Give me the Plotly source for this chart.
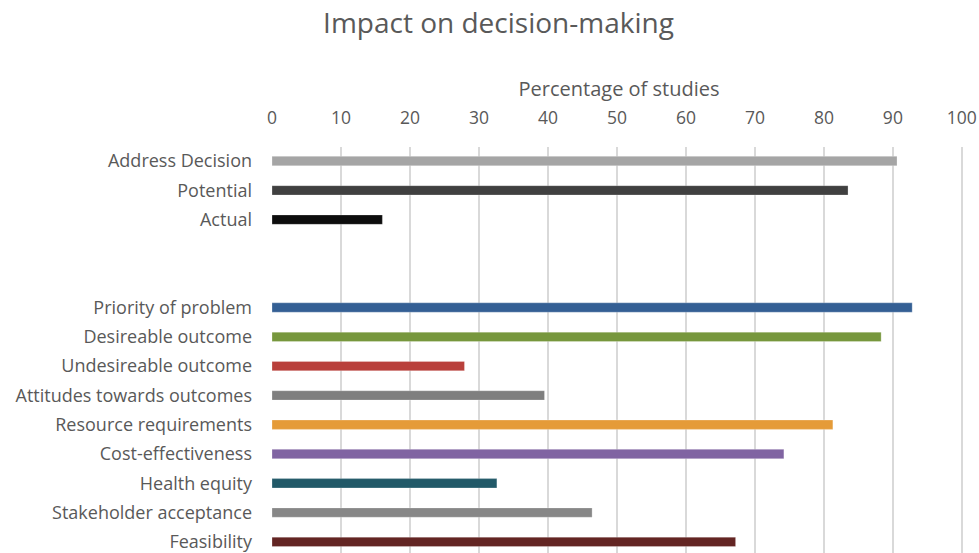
import plotly.graph_objects as go

categories = ["Address Decision", "Potential", "Actual", " ", "  ",
              "Priority of problem", "Desireable outcome", "Undesireable outcome",
              "Attitudes towards outcomes", "Resource requirements", "Cost-effectiveness",
              "Health equity", "Stakeholder acceptance", "Feasibility"]
values = [90.6, 83.5, 16.0, None, None,
          92.8, 88.3, 27.9, 39.5, 81.3, 74.2, 32.6, 46.4, 67.2]
colors = ["#a5a5a5", "#404040", "#0d0d0d", "#ffffff", "#ffffff",
          "#345f94", "#77973d", "#b9403b", "#7f7f7f", "#e59b38", "#8064a2",
          "#215968", "#878787", "#632523"]
x_ticks = [0, 10, 20, 30, 40, 50, 60, 70, 80, 90, 100]

W, H = 979, 553
ml, mr, mt, mb = 272, 13, 147, 0

fig = go.Figure(go.Bar(
    x=values, y=categories, orientation="h",
    marker=dict(color=colors, line=dict(color="rgba(255,255,255,0.5)", width=0.5)),
    width=0.32, hoverinfo="x+y",
))

txt = "#595959"
fig.update_layout(
    width=W, height=H,
    margin=dict(l=ml, r=mr, t=mt, b=mb, pad=0),
    paper_bgcolor="white", plot_bgcolor="white",
    font=dict(family="Open Sans", color=txt, size=18),
    title=dict(text="Impact on decision-making", x=498.5 / W, xanchor="center",
               xref="container", y=1 - 23 / H, yanchor="middle", yref="container",
               font=dict(size=28, color=txt)),
    showlegend=False,
    bargap=0.68,
)
fig.update_xaxes(
    side="top", range=[0, 100.6], tickvals=x_ticks, ticktext=[str(v) for v in x_ticks],
    showgrid=True, gridcolor="#d9d9d9", gridwidth=1.5, zeroline=False,
    showline=False, ticks="", ticklabelstandoff=19, ticklabeloverflow="allow",
    tickfont=dict(size=17.5, color=txt),
    title=dict(text="Percentage of studies", font=dict(size=20, color=txt), standoff=2),
)
fig.update_yaxes(
    type="category", categoryorder="array", categoryarray=categories,
    range=[13.38, -0.48], showgrid=False, zeroline=False, showline=False,
    ticks="", ticklabelstandoff=19, tickfont=dict(size=18, color=txt),
)

fig.write_html("out.html")
